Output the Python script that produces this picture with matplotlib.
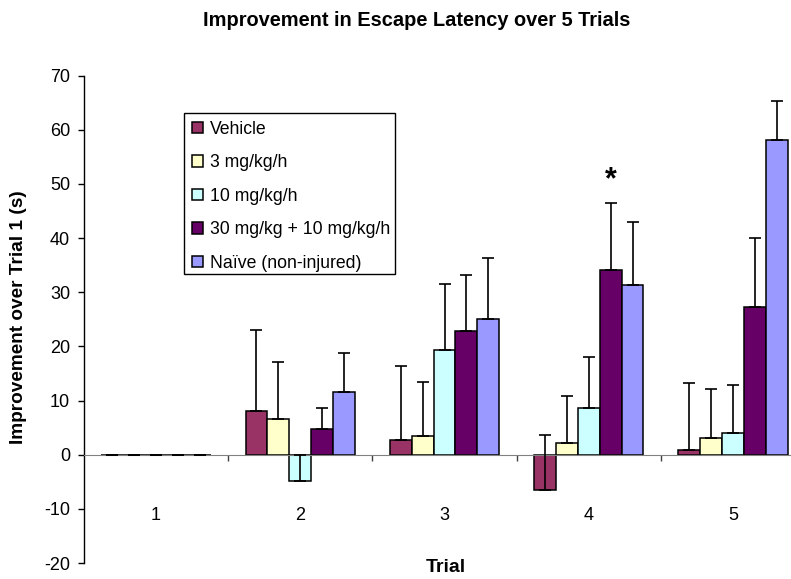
# Escape latency improvement — grouped bar chart with one-sided error bars

import matplotlib
matplotlib.use("Agg")
import matplotlib.pyplot as plt
from matplotlib.patches import Rectangle
import numpy as np

plt.rcParams["font.family"] = ["Liberation Sans", "DejaVu Sans"]
plt.rcParams["axes.unicode_minus"] = False

# ── data
trials = ["1", "2", "3", "4", "5"]
groups = ["Vehicle", "3 mg/kg/h", "10 mg/kg/h",
          "30 mg/kg + 10 mg/kg/h", "Naïve (non-injured)"]
colors = ["#993366", "#FFFFCC", "#CCFFFF", "#660066", "#9999FF"]

vehicle   = [0, 8.1, 2.8, -6.6, 0.9]
mg3       = [0, 6.6, 3.4, 2.1, 3.1]
mg10      = [0, -4.8, 19.4, 8.7, 4.0]
mg30      = [0, 4.7, 22.9, 34.1, 27.3]
naive     = [0, 11.6, 25.0, 31.3, 58.2]

vehicle_err = [0, 15.0, 13.5, 10.3, 12.3]
mg3_err     = [0, 10.6, 10.0, 8.8, 9.1]
mg10_err    = [0, 4.7, 12.2, 9.4, 8.8]
mg30_err    = [0, 4.0, 10.3, 12.3, 12.8]
naive_err   = [0, 7.2, 11.3, 11.7, 7.2]

means = [vehicle, mg3, mg10, mg30, naive]
errs  = [vehicle_err, mg3_err, mg10_err, mg30_err, naive_err]

# ── figure, axes placed to match the Excel-style layout
W, H = 791, 579
fig = plt.figure(figsize=(W / 100, H / 100), dpi=100)
ax = fig.add_axes([84 / W, (H - 563) / H, (805 - 84) / W, (563 - 75.7) / H])

x = np.arange(len(trials))
width = 0.152

for i, (vals, err) in enumerate(zip(means, errs)):
    pos = x + (i - 2) * width
    ax.bar(pos, vals, width, color=colors[i], edgecolor="black",
           linewidth=1.1, label=groups[i], zorder=2)
    # only the upper error bar is drawn
    ax.errorbar(pos, vals, yerr=[np.zeros(len(err)), err], fmt="none",
                ecolor="black", elinewidth=1.2, capsize=4.5, capthick=1.2,
                zorder=3)

# significance mark over 30 mg/kg at trial 4
ax.text(x[3] + 1 * width, mg30[3] + mg30_err[3] + 4.2, "*",
        ha="center", va="center", fontsize=22, fontweight="bold")

ax.set_xlim(-0.5, 4.5)
ax.set_ylim(-20, 70)
ax.set_yticks(np.arange(-20, 71, 10))
ax.tick_params(axis="y", direction="out", length=4, width=1,
               labelsize=13, pad=6)

# x axis sits at zero, ticks between categories
ax.spines["bottom"].set_position(("data", 0))
ax.spines["top"].set_visible(False)
ax.spines["right"].set_visible(False)
ax.spines["left"].set_linewidth(1)
ax.spines["bottom"].set_color("#808080")
ax.set_xticks(np.arange(0.5, 4.5, 1))
ax.set_xticklabels([])
ax.tick_params(axis="x", direction="out", length=4, width=1, color="#404040")

for xi, t in zip(x, trials):
    ax.text(xi, -11.3, t, ha="center", va="center", fontsize=13)

fig.text(446 / W, 1 - 568 / H, "Trial", ha="center", va="center",
         fontsize=14, fontweight="bold")
fig.text(19 / W, 1 - 317 / H, "Improvement over Trial 1 (s)", ha="center",
         va="center", rotation=90, fontsize=13.7, fontweight="bold")
fig.text(417 / W, 1 - 20 / H, "Improvement in Escape Latency over 5 Trials",
         ha="center", va="center", fontsize=14.4, fontweight="bold")

# legend box drawn separately so its size matches the reference
box = Rectangle((184 / W, 1 - 274 / H), (395 - 184) / W, (274 - 113) / H,
                transform=fig.transFigure, facecolor="white",
                edgecolor="black", linewidth=1, zorder=4, clip_on=False)
ax.add_patch(box)

leg = ax.legend(loc="upper left", bbox_to_anchor=(184 / W, 1 - 113 / H),
                bbox_transform=fig.transFigure, borderaxespad=0,
                fontsize=12.7, frameon=False, labelspacing=0.93,
                handlelength=0.62, handleheight=0.62, handletextpad=0.42,
                borderpad=0.45)
leg.set_zorder(5)

fig.savefig("out.png", dpi=100)
plt.close(fig)
